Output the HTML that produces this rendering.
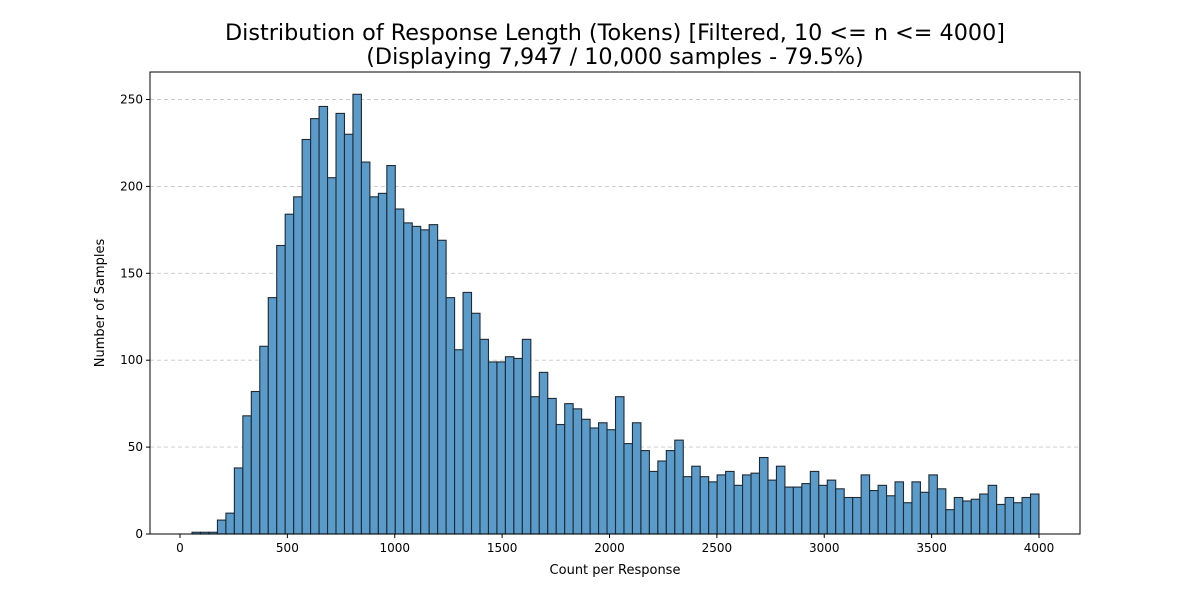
<!DOCTYPE html>
<html><head><meta charset="utf-8"><style>
body{margin:0;background:#fff;font-family:"DejaVu Sans","Liberation Sans",sans-serif}
</style></head><body>
<svg id="chart" width="1200" height="600" xmlns="http://www.w3.org/2000/svg">
<rect width="1200" height="600" fill="#fff"/>
<text x="615" y="40" text-anchor="middle" font-size="22.3">Distribution of Response Length (Tokens) [Filtered, 10 &lt;= n &lt;= 4000]</text>
<text x="615" y="64" text-anchor="middle" font-size="22.3">(Displaying 7,947 / 10,000 samples - 79.5%)</text>
<g id="grid"></g><g id="bars"></g><g id="axes"></g>
<text x="615" y="574" text-anchor="middle" font-size="13">Count per Response</text>
<text transform="translate(104,303) rotate(-90)" text-anchor="middle" font-size="13">Number of Samples</text>
</svg>
<script>
const counts=[1,1,1,8,12,38,68,82,108,136,166,184,194,227,239,246,205,242,230,253,214,194,196,212,187,179,177,175,178,169,136,106,139,127,112,99,99,102,101,112,79,93,78,63,75,72,66,61,64,60,79,52,64,48,36,42,48,54,33,39,33,30,34,36,28,34,35,44,31,39,27,27,29,36,28,31,26,21,21,34,25,28,22,30,18,30,24,34,26,14,21,19,20,23,28,17,21,18,21,23];
const binStart=56;
const binEnd=4000;
const xTicks=[0,500,1000,1500,2000,2500,3000,3500,4000];
const yTicks=[0,50,100,150,200,250];
const L=150,R=1080,T=72,B=534;
const x=v=>180+v*(1039-180)/4000;
const y=v=>B-v*(534-99.5)/250;
const NS="http://www.w3.org/2000/svg";
function mk(tag,attrs,parent){const e=document.createElementNS(NS,tag);for(const k in attrs)e.setAttribute(k,attrs[k]);document.getElementById(parent).appendChild(e);return e;}
yTicks.forEach(t=>{if(t===0)return;const g=mk('line',{x1:L,x2:R,y1:y(t),y2:y(t),stroke:'#c8c8c8','stroke-dasharray':'4,3','stroke-width':0.9},'grid');

});
const w=(binEnd-binStart)/counts.length;
counts.forEach((c,i)=>{const x0=x(binStart+i*w),x1=x(binStart+(i+1)*w);
const r=mk('rect',{x:x0,y:y(c),width:x1-x0,height:B-y(c),fill:'#5b9bc9',stroke:'#1f2a33','stroke-width':1.1,'fill-opacity':1},'bars');

});
const fr=mk('rect',{x:L,y:T,width:R-L,height:B-T,fill:'none',stroke:'#000','stroke-width':1},'axes');


xTicks.forEach(t=>{mk('line',{x1:x(t),x2:x(t),y1:B,y2:B+4,stroke:'#000'},'axes');
const tx=mk('text',{x:x(t),y:B+18,'text-anchor':'middle','font-size':12},'axes');tx.textContent=t;

});
yTicks.forEach(t=>{mk('line',{x1:L-4,x2:L,y1:y(t),y2:y(t),stroke:'#000'},'axes');
const tx=mk('text',{x:L-7,y:y(t)+4,'text-anchor':'end','font-size':12},'axes');tx.textContent=t;

});
</script>
</body></html>
